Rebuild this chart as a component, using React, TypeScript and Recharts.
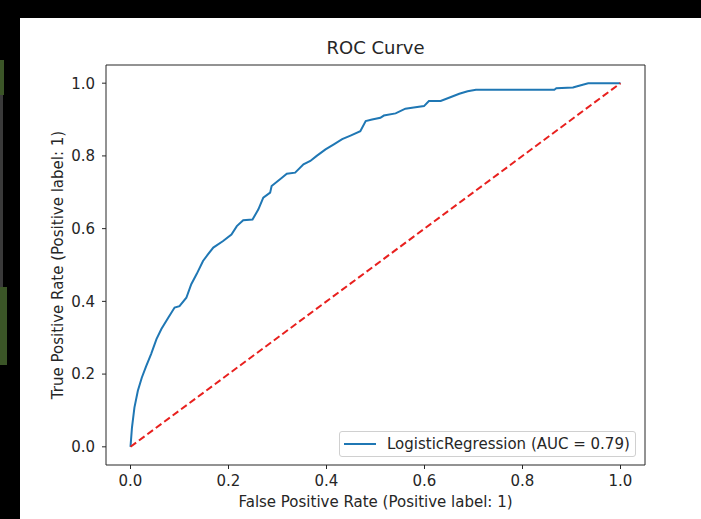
import React from 'react'
import { LineChart, Line, XAxis, YAxis, ReferenceArea } from 'recharts'

// ROC points (false positive rate, true positive rate)
const fpr = [
  0, 0.003, 0.008, 0.015, 0.023, 0.032, 0.042, 0.053, 0.063, 0.077, 0.09, 0.1, 0.114, 0.124, 0.135, 0.148,
  0.158, 0.169, 0.189, 0.206, 0.217, 0.23, 0.249, 0.261, 0.271, 0.285, 0.288, 0.309, 0.319, 0.336, 0.353,
  0.367, 0.38, 0.398, 0.415, 0.432, 0.449, 0.469, 0.48, 0.493, 0.51, 0.517, 0.541, 0.561, 0.578, 0.599,
  0.609, 0.633, 0.654, 0.671, 0.688, 0.705, 0.865, 0.869, 0.903, 0.91, 0.934, 1.0,
]
const tpr = [
  0, 0.053, 0.108, 0.154, 0.19, 0.222, 0.255, 0.296, 0.324, 0.355, 0.383, 0.387, 0.41, 0.447, 0.475, 0.511,
  0.529, 0.548, 0.566, 0.584, 0.607, 0.623, 0.625, 0.653, 0.685, 0.699, 0.717, 0.74, 0.751, 0.754, 0.777,
  0.786, 0.8, 0.818, 0.832, 0.846, 0.856, 0.868, 0.896, 0.9, 0.905, 0.911, 0.917, 0.93, 0.933, 0.937,
  0.951, 0.951, 0.962, 0.971, 0.978, 0.982, 0.982, 0.986, 0.988, 0.991, 1.0, 1.0,
]
const chanceX = [0, 1]
const chanceY = [0, 1]
const ticks = [0, 0.2, 0.4, 0.6, 0.8, 1.0]

const title = 'ROC Curve'
const xLabel = 'False Positive Rate (Positive label: 1)'
const yLabel = 'True Positive Rate (Positive label: 1)'
const seriesName = 'LogisticRegression (AUC = 0.79)'

const roc = fpr.map((x, i) => ({ x, y: tpr[i] }))
const chance = chanceX.map((x, i) => ({ x, y: chanceY[i] }))

const font = '"DejaVu Sans", sans-serif'
const ink = '#262626'

function LegendBox() {
  return (
    <div
      style={{
        position: 'absolute',
        left: 339,
        top: 431,
        width: 295,
        height: 24,
        border: '1px solid #d0d0d0',
        borderRadius: 3,
        background: 'rgba(255,255,255,0.8)',
        display: 'flex',
        alignItems: 'center',
        fontFamily: font,
        fontSize: 15,
        color: ink,
      }}
    >
      <div style={{ marginLeft: 4, width: 32, height: 2, background: '#1f77b4' }} />
      <span style={{ marginLeft: 11, whiteSpace: 'nowrap' }}>{seriesName}</span>
    </div>
  )
}

export default function App() {
  return (
    <div style={{ position: 'absolute', left: 0, top: 0, width: 701, height: 519, background: '#000', overflow: 'hidden' }}>
      <div style={{ position: 'absolute', left: 20, top: 18, right: 0, bottom: 0, background: '#fff' }} />
      <div style={{ position: 'absolute', left: 0, top: 60, width: 4, height: 35, background: '#3b5527' }} />
      <div style={{ position: 'absolute', left: 0, top: 95, width: 3, height: 192, background: '#3a3a3a' }} />
      <div style={{ position: 'absolute', left: 0, top: 287, width: 7, height: 78, background: '#3b5527' }} />
      <div
        style={{
          position: 'absolute',
          left: 106,
          width: 539,
          top: 37,
          textAlign: 'center',
          fontFamily: font,
          fontSize: 18,
          color: ink,
        }}
      >
        {title}
      </div>
      <div style={{ position: 'absolute', left: 0, top: 0 }}>
        <LineChart width={701} height={519} margin={{ top: 65, right: 56, bottom: 24, left: 56 }}>
          <XAxis
            dataKey="x"
            type="number"
            domain={[-0.05, 1.05]}
            ticks={ticks}
            tickFormatter={(v: number) => v.toFixed(1)}
            axisLine={false}
            tickSize={4}
            tickMargin={6}
            height={30}
            tickLine={{ stroke: ink }}
            tick={{ fill: ink, fontSize: 15, fontFamily: font }}
            label={{ value: xLabel, position: 'center', dy: 22, fill: ink, fontSize: 15, fontFamily: font }}
          />
          <YAxis
            dataKey="y"
            type="number"
            domain={[-0.05, 1.05]}
            ticks={ticks}
            tickFormatter={(v: number) => v.toFixed(1)}
            axisLine={false}
            tickSize={4}
            tickMargin={7}
            width={50}
            tickLine={{ stroke: ink }}
            tick={{ fill: ink, fontSize: 15, fontFamily: font }}
            label={{ value: yLabel, position: 'center', angle: -90, dx: -23, fill: ink, fontSize: 15, fontFamily: font }}
          />
          <ReferenceArea x1={-0.05} x2={1.05} y1={-0.05} y2={1.05} fill="none" fillOpacity={0} stroke={ink} strokeWidth={1} />
          <Line
            data={roc}
            dataKey="y"
            stroke="#1f77b4"
            strokeWidth={2}
            dot={false}
            isAnimationActive={false}
          />
          <Line
            data={chance}
            dataKey="y"
            stroke="#e8201e"
            strokeWidth={2}
            strokeDasharray="7 3.5"
            dot={false}
            isAnimationActive={false}
          />
        </LineChart>
      </div>
      <LegendBox />
    </div>
  )
}
